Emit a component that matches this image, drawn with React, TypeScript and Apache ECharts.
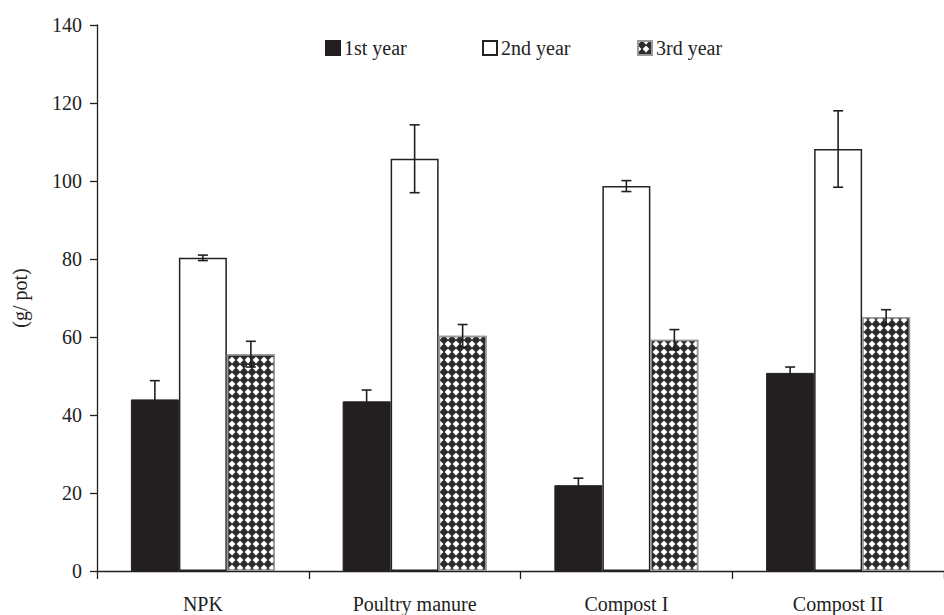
import React, { useEffect, useRef } from "react";
import * as echarts from "echarts";

const categories = ["NPK", "Poultry manure", "Compost I", "Compost II"];
const seriesNames = ["1st year", "2nd year", "3rd year"];
const year1 = [44.0, 43.5, 22.0, 50.8];
const err1 = [4.8, 2.9, 1.8, 1.5];
const year2 = [80.3, 105.7, 98.7, 108.2];
const err2 = [0.7, 8.7, 1.4, 9.8];
const year3 = [55.6, 60.3, 59.3, 65.1];
const err3 = [3.3, 2.9, 2.6, 1.9];
const yTicks = [0, 20, 40, 60, 80, 100, 120, 140];

const FONT = "Liberation Serif";
const FS = 20;
const BAR_W = 48;
const INK = "#231f20";

function errorSeries(vals: number[], errs: number[], idx: number) {
  return {
    type: "custom",
    name: seriesNames[idx] + " error",
    silent: true,
    z: 10,
    data: vals.map((v, i) => [i, v, errs[i]]),
    renderItem: (params: any, api: any) => {
      const ci = api.value(0);
      const v = api.value(1);
      const e = api.value(2);
      const top = api.coord([ci, v + e]);
      const bot = api.coord([ci, v - e]);
      const x = top[0] + (idx - 1) * BAR_W;
      const cap = 5;
      const style = { stroke: INK, lineWidth: 1.6, fill: "none" };
      return {
        type: "group",
        children: [
          { type: "line", shape: { x1: x, y1: top[1], x2: x, y2: bot[1] }, style },
          { type: "line", shape: { x1: x - cap, y1: top[1], x2: x + cap, y2: top[1] }, style },
          { type: "line", shape: { x1: x - cap, y1: bot[1], x2: x + cap, y2: bot[1] }, style },
        ],
      };
    },
  };
}

export default function App() {
  const ref = useRef<HTMLDivElement>(null);
  useEffect(() => {
    if (!ref.current) return;
    const chart = echarts.init(ref.current, null, { renderer: "svg" });
    const legendCommon = {
      top: 38,
      padding: 0,
      itemWidth: 14,
      itemHeight: 14,
      itemGap: 4,
      textStyle: { fontFamily: FONT, fontSize: FS, color: "#222", padding: [0, 0, 0, -1] },
      icon: "rect",
    };
    chart.setOption({
      animation: false,
      backgroundColor: "#ffffff",
      textStyle: { fontFamily: FONT },
      grid: { left: 97, right: -8, top: 25, bottom: 44, containLabel: false },
      legend: [
        { ...legendCommon, left: 325, data: [seriesNames[0]] },
        { ...legendCommon, left: 482, data: [seriesNames[1]] },
        { ...legendCommon, left: 637, data: [seriesNames[2]] },
      ],
      xAxis: {
        type: "category",
        data: categories,
        axisLine: { show: true, lineStyle: { color: INK, width: 1.3 } },
        axisTick: { show: true, length: 8, alignWithLabel: false, lineStyle: { color: INK, width: 1.3 } },
        axisLabel: { fontFamily: FONT, fontSize: FS, color: "#222", margin: 23 },
        splitLine: { show: false },
      },
      yAxis: {
        type: "value",
        min: yTicks[0],
        max: yTicks[yTicks.length - 1],
        interval: 20,
        name: "(g/ pot)",
        nameLocation: "middle",
        nameGap: 67,
        nameTextStyle: { fontFamily: FONT, fontSize: FS, color: "#222" },
        axisLine: { show: true, lineStyle: { color: INK, width: 1.3 } },
        axisTick: { show: true, length: 7, inside: false, lineStyle: { color: INK, width: 1.3 } },
        axisLabel: { fontFamily: FONT, fontSize: FS, color: "#222", margin: 15 },
        splitLine: { show: false },
      },
      series: [
        {
          type: "bar",
          name: seriesNames[0],
          data: year1,
          barWidth: BAR_W,
          barGap: "0%",
          itemStyle: { color: INK, borderColor: INK, borderWidth: 1 },
        },
        {
          type: "bar",
          name: seriesNames[1],
          data: year2,
          barWidth: BAR_W,
          barGap: "0%",
          itemStyle: { color: "#ffffff", borderColor: "#222", borderWidth: 1.5 },
        },
        {
          type: "bar",
          name: seriesNames[2],
          data: year3,
          barWidth: BAR_W,
          barGap: "0%",
          itemStyle: {
            color: "#ffffff",
            borderColor: "#999",
            borderWidth: 1.5,
            decal: {
              symbol: "diamond",
              symbolSize: 1.15,
              color: "#2b2b2b",
              backgroundColor: "#ffffff",
              dashArrayX: [8, 0],
              dashArrayY: [8, 0],
              rotation: 0,
            },
          },
        },
        errorSeries(year1, err1, 0),
        errorSeries(year2, err2, 1),
        errorSeries(year3, err3, 2),
      ],
    });
    return () => chart.dispose();
  }, []);
  return (
    <div
      ref={ref}
      style={{ position: "fixed", left: 0, top: 0, width: 944, height: 615 }}
    />
  );
}
